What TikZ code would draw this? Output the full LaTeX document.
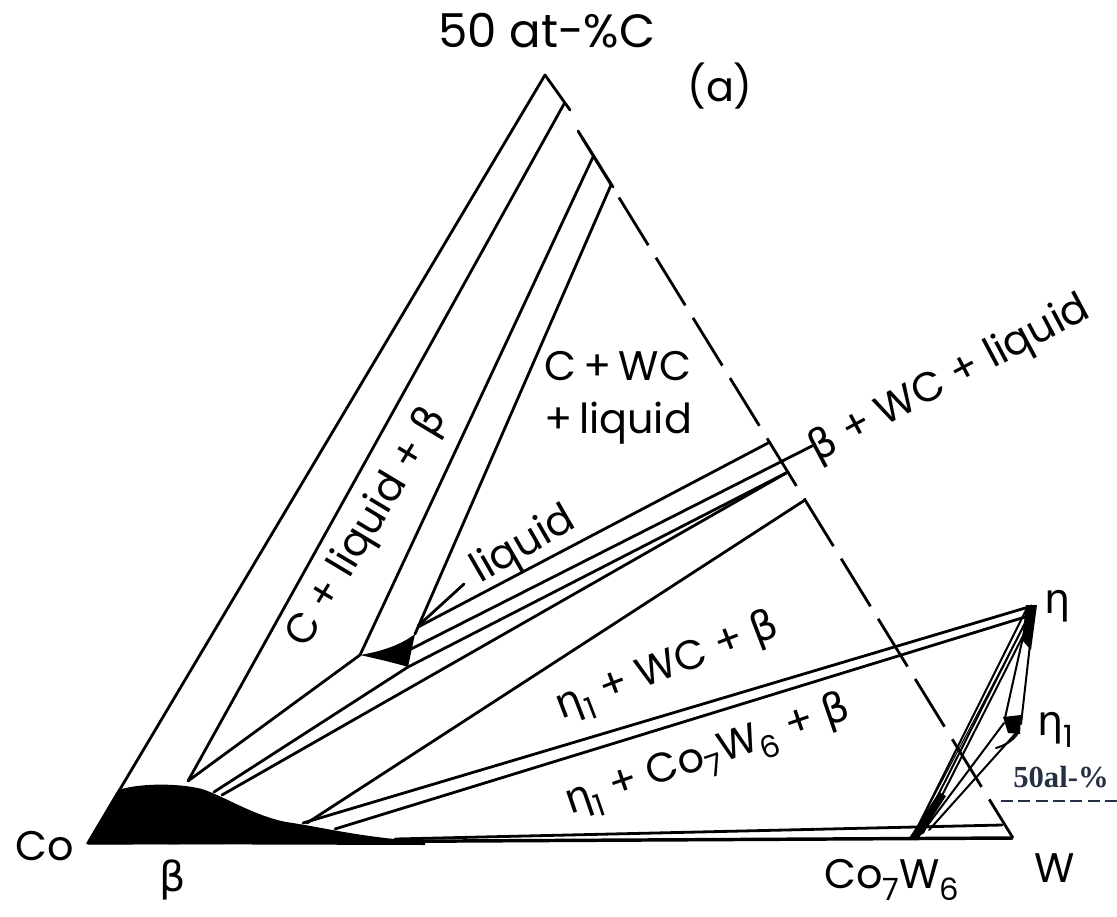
\documentclass[tikz,border=0pt]{standalone}
\usepackage{fontspec}
\setmainfont{Poppins}
\newfontfamily\grk{DejaVu Sans}
\newfontfamily\serifb{Liberation Serif}
\newcommand\gb{{\grk β}}
\newcommand\geta{{\grk η}}
\newcommand\sbs[1]{\raisebox{-0.28em}{\fontsize{23}{25}\selectfont #1}}
\definecolor{slate}{RGB}{38,48,68}
\begin{document}
\begin{tikzpicture}[x=0.75pt,y=-0.75pt,
  ln/.style={line width=2.1pt,line cap=round,line join=round},
  thin ln/.style={line width=1.5pt,line cap=round,line join=round},
  lbl/.style={font=\fontsize{31}{40}\selectfont,inner sep=0pt}]
\useasboundingbox (0,0) rectangle (1117,917);
\fill[white] (0,0) rectangle (1117,917);

% key points
\coordinate (Co) at (88,843);
\coordinate (A) at (545,75);
\coordinate (Acap) at (570,110);
\coordinate (W) at (1013,838);
\coordinate (Btop) at (578,131);
\coordinate (eta) at (1032,606);
\coordinate (eta1) at (1014,725);
\coordinate (C7) at (913,836);
\coordinate (L) at (360,655);   % small liquid triangle, left
\coordinate (Lt) at (415,634);  % top right
\coordinate (Lb) at (408,667);  % bottom
\coordinate (WCa) at (770,442);
\coordinate (WCb) at (788,472);
\coordinate (WCc) at (805,500);

% beta region (black)
\fill (86,844) -- (118,790) .. controls (140,783) and (178,783) .. (202,789)
  .. controls (226,797) and (252,815) .. (286,822)
  .. controls (322,827) and (352,836) .. (425,842) -- (425,845) -- cycle;
% small liquid triangle (black)
\fill (L) .. controls (378,659) and (395,663) .. (Lb) -- (Lt)
  .. controls (402,644) and (384,651) .. cycle;

% outer left band
\draw[ln] (Co) -- (A) -- (Acap);
\draw[ln] (188,781) -- (564,104);
% C + liquid + beta band
\draw[ln] (188,781) -- (L);
\draw[ln] (L) -- (593,157);
\draw[ln] (Lt) -- (611,185);
\draw[ln] (Btop) -- (613,187);
% liquid band and leader
\draw[ln] (418,626) -- (464,584);
\draw[ln] (418,627) -- (WCa);
\draw[ln] (411,649) -- (812,446);
\draw[ln] (Lb) -- (WCb);
\draw[ln] (214,792) -- (Lb);
\draw[ln] (222,795) -- (WCb);
\draw[ln] (307,823) -- (WCc);
% lines to eta
\draw[ln] (303,823) -- (eta);
\draw[ln] (335,829) -- (1025,617);
% Co7W6 wedge and base
\draw[ln] (395,839) -- (1002,825);
\draw[line width=2.6pt] (Co) -- (W);
% dashed boundary (drawn from W so that it ends solid there)
\draw[ln,line cap=butt,dash pattern=on 42pt off 11pt,dash phase=8pt] (W) -- (Btop);

% eta / eta1 / Co7W6 region
\fill (1026,605) -- (1037,605) -- (1031,650) -- (1022,640) -- cycle;
\fill (1003,717) -- (1021,715) -- (1020,734) -- (1008,733) -- cycle;
\fill (909,838) -- (919,838) -- (946,796) -- (939,792) -- cycle;
\draw[thin ln] (1027,608) -- (C7);
\draw[thin ln] (1031,611) -- (917,837);
\draw[thin ln] (1029,624) -- (923,833);
\draw[thin ln] (1034,609) -- (1021,724);
\draw[thin ln] (1025,628) -- (1005,718);
\draw[thin ln] (1004,723) -- (921,834);
\draw[thin ln] (1016,733) -- (929,830);
\draw[thin ln] (1018,733) .. controls (1012,742) and (1003,746) .. (996,748);
\draw[line width=0.8pt] (1029,616) -- (913,836);

% labels
\node[lbl,font=\fontsize{35}{40}\selectfont] (t50) at (547,31) {50 at-\%C};
\node[lbl] (ta) at (720,86) {(a)};
\node[lbl,align=center] (tcwc) at (618,398) {C\,+\,WC\\+\,liquid};
\node[lbl,rotate=28] (tbwl) at (950,380) {\gb\ +\ WC\ +\ liquid};
\node[lbl,rotate=59] (tclb) at (368,528) {C\ +\ liquid\ +\ \gb};
\node[lbl,rotate=30] (tliq) at (524,546) {liquid};
\node[lbl,rotate=21] (tewb) at (668,668) {\geta\sbs{1}\ +\ WC\ +\ \gb};
\node[lbl,rotate=19] (tecb) at (708,757) {\geta\sbs{1}\ +\ Co\sbs{7}W\sbs{6}\ +\ \gb};
\node[lbl] (teta) at (1058,606) {\geta};
\node[lbl] (teta1) at (1055,730) {\geta\sbs{1}};
\node[font=\serifb\bfseries\fontsize{23}{26}\selectfont,text=slate,anchor=base west,inner sep=0pt] (t50al) at (1013,787) {50al-\%};
\draw[slate,line width=2pt,dash pattern=on 9pt off 4pt] (1001,801) -- (1117,801);
\node[lbl] (tco) at (45,846) {Co};
\node[lbl] (tbeta) at (173,880) {\gb};
\node[lbl] (tco7) at (892,880) {Co\sbs{7}W\sbs{6}};
\node[lbl] (tw) at (1055,868) {W};
\end{tikzpicture}
\end{document}
